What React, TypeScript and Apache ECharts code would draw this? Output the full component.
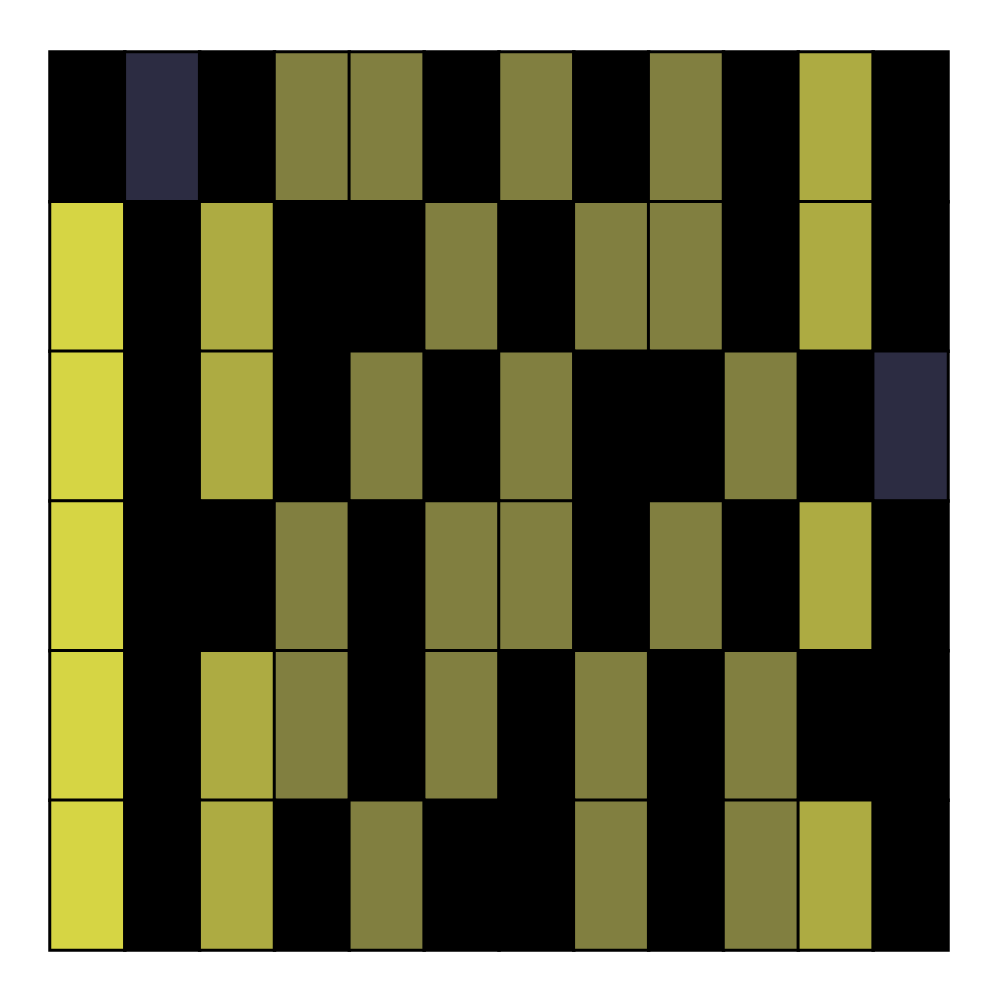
import React, { useEffect, useRef } from "react";
import * as echarts from "echarts";

const columns = ["0", "1", "2", "3", "4", "5", "6", "7", "8", "9", "10", "11"];
const rows = ["0", "1", "2", "3", "4", "5"];
// value levels per row (top to bottom), 0 = black, 1 = navy, 2 = olive, 3 = light olive, 4 = yellow
const row0 = [0, 1, 0, 2, 2, 0, 2, 0, 2, 0, 3, 0];
const row1 = [4, 0, 3, 0, 0, 2, 0, 2, 2, 0, 3, 0];
const row2 = [4, 0, 3, 0, 2, 0, 2, 0, 0, 2, 0, 1];
const row3 = [4, 0, 0, 2, 0, 2, 2, 0, 2, 0, 3, 0];
const row4 = [4, 0, 3, 2, 0, 2, 0, 2, 0, 2, 0, 0];
const row5 = [4, 0, 3, 0, 2, 0, 0, 2, 0, 2, 3, 0];
const levelColors = ["#000000", "#2c2c42", "#817f40", "#adab42", "#d6d544"];

export default function App() {
  const ref = useRef<HTMLDivElement>(null);
  useEffect(() => {
    if (!ref.current) return;
    const chart = echarts.init(ref.current, null, { renderer: "svg" });
    const matrix = [row0, row1, row2, row3, row4, row5];
    const data: any[] = [];
    matrix.forEach((r, ri) => r.forEach((v, ci) => data.push([ci, ri, v])));
    chart.setOption({
      animation: false,
      backgroundColor: "#ffffff",
      grid: { left: 50, top: 52, width: 898, height: 898 },
      xAxis: { type: "category", data: columns, show: false },
      yAxis: { type: "category", data: rows, show: false, inverse: true },
      visualMap: {
        show: false,
        type: "piecewise",
        dimension: 2,
        pieces: levelColors.map((c, i) => ({ value: i, color: c })),
      },
      series: [
        {
          type: "heatmap",
          data,
          itemStyle: { borderColor: "#000000", borderWidth: 3 },
          emphasis: { disabled: true },
        },
      ],
    });
    return () => chart.dispose();
  }, []);
  return (
    <div
      ref={ref}
      style={{ position: "fixed", left: 0, top: 0, width: 1000, height: 1000 }}
    />
  );
}
